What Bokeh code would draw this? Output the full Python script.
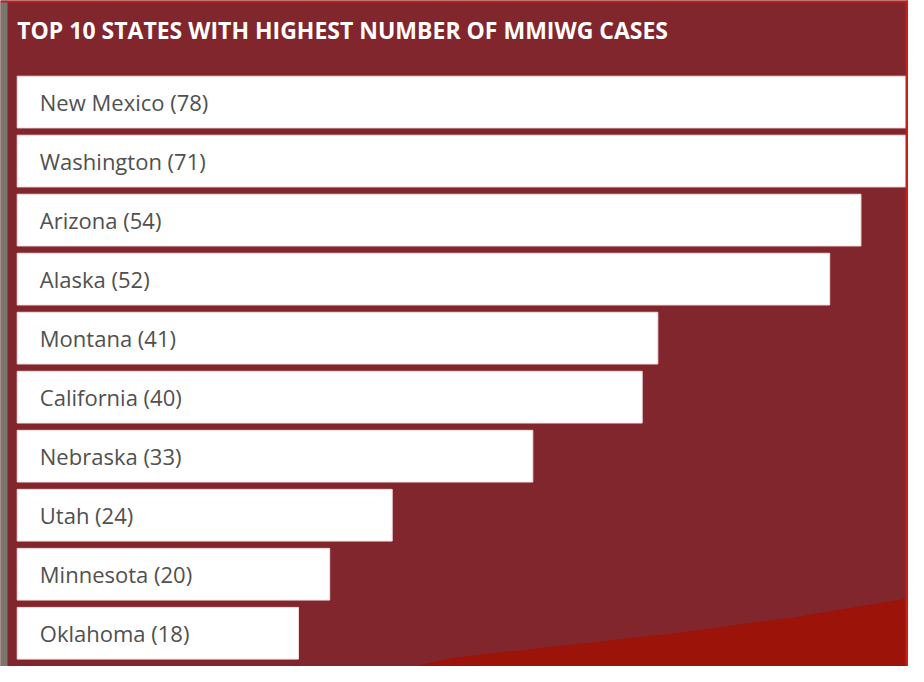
from bokeh.plotting import figure
from bokeh.models import Range1d, Label, ColumnDataSource, BoxAnnotation
from bokeh.core.properties import value
from bokeh.embed import file_html
from bokeh.resources import INLINE

# ---- data ----
states = ["New Mexico", "Washington", "Arizona", "Alaska", "Montana",
          "California", "Nebraska", "Utah", "Minnesota", "Oklahoma"]
cases = [78, 71, 54, 52, 41, 40, 33, 24, 20, 18]
title_text = "TOP 10 STATES WITH HIGHEST NUMBER OF MMIWG CASES"

BG = "#82262e"
W, H = 908, 666
SX, SY = W / 924, H / 682          # reference px -> figure px
PX_PER_UNIT = 15.9 * SX            # horizontal scale, px per case
LEFT_PAD = 17 * SX                 # px from figure left to bar origin
ROW_PX = 60.44 * SY                # vertical px per row
TOP_CENTER_PX = 104 * SY           # px from figure top to first bar centre

n = len(states)
ypos = [n - 0.5 - i for i in range(n)]
labels = [f"{s} ({v})" for s, v in zip(states, cases)]

x0 = -LEFT_PAD / PX_PER_UNIT
x1 = x0 + W / PX_PER_UNIT
ytop = (n - 0.5) + TOP_CENTER_PX / ROW_PX
ybot = ytop - H / ROW_PX

p = figure(width=W, height=H, output_backend="svg", toolbar_location=None,
           x_range=Range1d(x0, x1), y_range=Range1d(ybot, ytop),
           min_border=0, background_fill_color=BG, border_fill_color=BG,
           outline_line_color=None)
p.axis.visible = False
p.grid.visible = False

def rx(px):
    return x0 + px * SX / PX_PER_UNIT

def ry(py):
    return ytop - py * SY / ROW_PX

# decorative bright-red sweep at bottom right (reference px)
curve_px = [(420, 682), (460, 673), (577, 660), (693, 647), (810, 631), (924, 612)]
dx = [rx(a) for a, b in curve_px] + [rx(930), rx(420)]
dy = [ry(b) for a, b in curve_px] + [ry(700), ry(700)]
p.patch(dx, dy, fill_color="#9c1409", line_color=None)

# frame decorations: grey strip left, red rule top and right
p.add_layout(BoxAnnotation(left=0, right=7, left_units="screen", right_units="screen",
                           fill_color="#77776e", fill_alpha=1, line_color=None))
p.add_layout(BoxAnnotation(bottom=H - 2, top=H, bottom_units="screen", top_units="screen",
                           fill_color="#c81e14", fill_alpha=1, line_color=None))
p.add_layout(BoxAnnotation(left=W - 3, right=W, left_units="screen", right_units="screen",
                           fill_color="#c81e14", fill_alpha=1, line_color=None))

src = ColumnDataSource(dict(y=ypos, v=cases, label=labels, left=[0] * n))
p.hbar(y="y", left="left", right="v", height=0.876, source=src,
       fill_color="white", line_color="#f3dede", line_width=1)

p.text(x="left", y="y", text="label", source=src, x_offset=23 * SX,
       text_baseline="middle", text_align="left",
       text_font=value("Open Sans"), text_font_size="22px",
       text_color="#505050")

p.add_layout(Label(x=17 * SX, y=H - 30 * SY, x_units="screen", y_units="screen",
                   text=title_text, text_font="Open Sans",
                   text_font_style="bold", text_font_size="23px",
                   text_color="white", text_baseline="alphabetic"))

open("out.html", "w").write(file_html(p, INLINE, title="MMIWG cases"))
